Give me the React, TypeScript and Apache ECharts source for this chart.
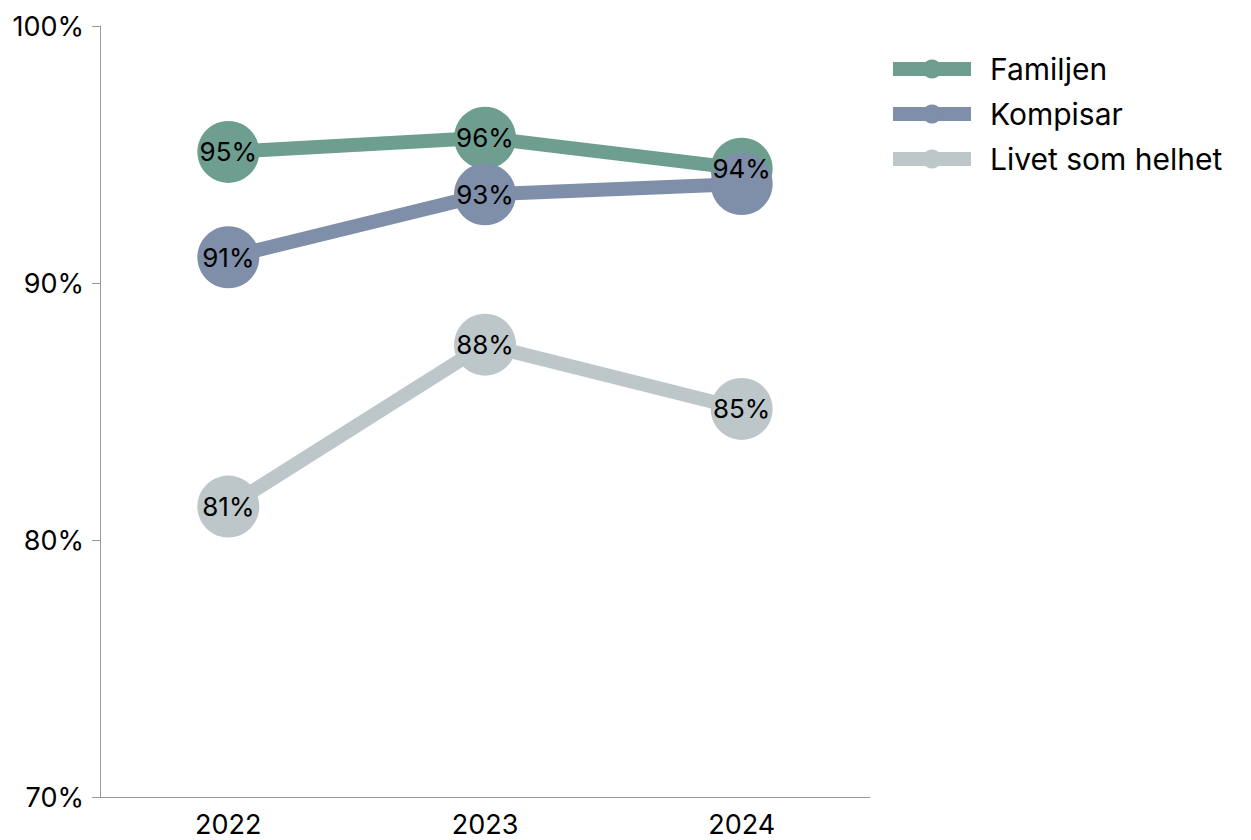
import React, { useEffect, useRef } from "react";
import * as echarts from "echarts";

const years = ["2022", "2023", "2024"];
const familjen = [95.1, 95.65, 94.45];
const kompisar = [91.0, 93.45, 93.85];
const livet = [81.3, 87.6, 85.1];
const seriesNames = ["Familjen", "Kompisar", "Livet som helhet"];
const colors = ["#6e9e8f", "#7f8ea9", "#bdc7ca"];
const yTicks = [70, 80, 90, 100];

const FONT = "Inter, 'Noto Sans', sans-serif";

export default function App() {
  const ref = useRef<HTMLDivElement>(null);
  useEffect(() => {
    if (!ref.current) return;
    const chart = echarts.init(ref.current, null, { renderer: "svg" });
    const data = [familjen, kompisar, livet];
    // a label is hidden when an earlier series shows the same rounded value very close by
    const labelShown = (si: number, j: number) => {
      for (let k = 0; k < si; k++) {
        if (
          Math.round(data[k][j]) === Math.round(data[si][j]) &&
          Math.abs(data[k][j] - data[si][j]) < 1
        )
          return false;
      }
      return true;
    };
    const lineSeries = data.map((d, i) => ({
      name: seriesNames[i],
      type: "line",
      data: d,
      color: colors[i],
      symbol: "circle",
      symbolSize: 62,
      lineStyle: { width: 14, color: colors[i] },
      itemStyle: { color: colors[i] },
      label: { show: false },
      z: 2 + i,
    }));
    const labelSeries = data.map((d, i) => ({
      name: "label-" + i,
      type: "scatter",
      symbolSize: 2,
      itemStyle: { color: "rgba(0,0,0,0)" },
      silent: true,
      z: 20,
      data: d.map((v, j) => ({
        value: [years[j], v],
        label: { show: labelShown(i, j) },
      })),
      label: {
        show: true,
        position: "inside",
        fontSize: 26,
        color: "#000000",
        opacity: 1,
        textBorderWidth: 0,
        fontFamily: FONT,
        formatter: (p: any) => Math.round(p.value[1]) + "%",
      },
    }));
    chart.setOption({
      animation: false,
      textStyle: { fontFamily: FONT },
      grid: { left: 100, right: 381, top: 26, bottom: 43, containLabel: false },
      legend: {
        orient: "vertical",
        left: 881,
        top: 49,
        itemWidth: 78,
        itemHeight: 24,
        itemGap: 15,
        lineStyle: { width: 14 },
        textStyle: { fontSize: 30, lineHeight: 30, color: "#000", fontFamily: FONT, padding: [0, 0, 0, 14] },
        data: seriesNames,
      },
      xAxis: {
        type: "category",
        data: years,
        boundaryGap: true,
        axisLine: { lineStyle: { color: "#999", width: 1 } },
        axisTick: { alignWithLabel: true, length: 8, lineStyle: { color: "#999" } },
        axisLabel: { fontSize: 27, color: "#000", margin: 14, fontFamily: FONT },
      },
      yAxis: {
        type: "value",
        min: yTicks[0],
        max: yTicks[yTicks.length - 1],
        interval: 10,
        splitLine: { show: false },
        axisLine: { show: true, lineStyle: { color: "#999", width: 1 } },
        axisTick: { show: true, length: 8, lineStyle: { color: "#999" } },
        axisLabel: { fontSize: 27, color: "#000", margin: 16, formatter: "{value}%", fontFamily: FONT },
      },
      series: [...lineSeries, ...labelSeries],
    });
    return () => chart.dispose();
  }, []);
  return <div ref={ref} style={{ width: 1251, height: 840, position: "absolute", left: 0, top: 0 }} />;
}
